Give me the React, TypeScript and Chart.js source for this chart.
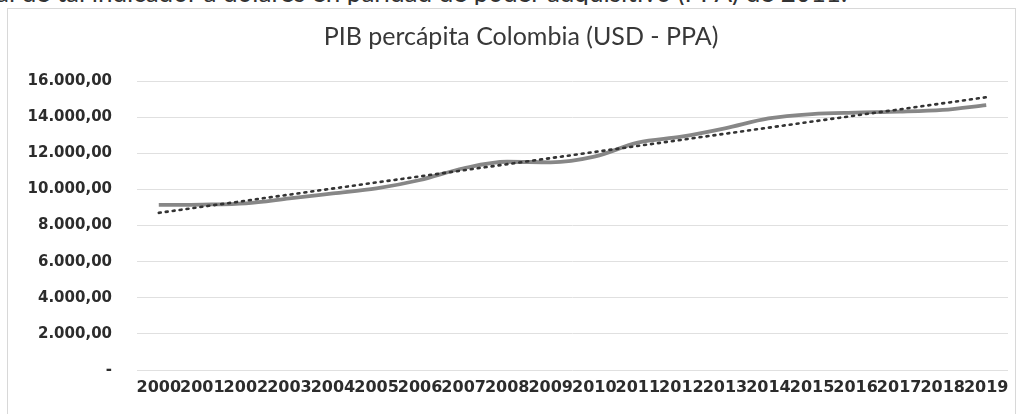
import React, { useEffect, useRef } from "react";
import { Chart, registerables } from "chart.js";

Chart.register(...registerables);

const years = ["2000","2001","2002","2003","2004","2005","2006","2007","2008","2009","2010","2011","2012","2013","2014","2015","2016","2017","2018","2019"];
const pibPerCapita = [9140, 9160, 9230, 9500, 9780, 10060, 10520, 11170, 11530, 11500, 11810, 12590, 12920, 13380, 13930, 14170, 14250, 14300, 14400, 14670];
const trendStart = 8700;
const trendEnd = 15100;
const yTickLabels = ["-", "2.000,00", "4.000,00", "6.000,00", "8.000,00", "10.000,00", "12.000,00", "14.000,00", "16.000,00"];
const titleText = "PIB percápita Colombia (USD - PPA)";
const headerText = "al de tal indicador a dólares en paridad de poder adquisitivo (PPA) de 2011.";

const trendData = years.map((_, i) => (i === 0 ? trendStart : i === years.length - 1 ? trendEnd : null));

export default function App() {
  const ref = useRef<HTMLCanvasElement | null>(null);
  useEffect(() => {
    if (!ref.current) return;
    const tickFont = "'DejaVu Sans', Verdana, sans-serif";
    const chart = new Chart(ref.current, {
      type: "line",
      data: {
        labels: years,
        datasets: [
          {
            label: "Tendencia",
            data: trendData,
            spanGaps: true,
            borderColor: "#333333",
            borderWidth: 2.6,
            borderDash: [2, 5],
            borderCapStyle: "round",
            pointRadius: 0,
            fill: false,
            order: 0,
          },
          {
            label: "PIB percápita",
            data: pibPerCapita,
            borderColor: "#878787",
            borderWidth: 3.8,
            pointRadius: 0,
            tension: 0.3,
            cubicInterpolationMode: "monotone",
            fill: false,
            order: 1,
          },
        ],
      },
      options: {
        responsive: false,
        animation: false,
        layout: { padding: { left: 10, right: 16, top: 81, bottom: 10 } },
        plugins: {
          legend: { display: false },
          tooltip: { enabled: false },
          title: { display: false },
        },
        scales: {
          x: {
            offset: true,
            grid: { display: false, drawTicks: false },
            border: { display: false },
            ticks: {
              autoSkip: false,
              maxRotation: 0,
              minRotation: 0,
              padding: 8,
              color: "#2c2c2c",
              font: { family: tickFont, size: 16, weight: "bold" },
            },
            afterFit: (s: any) => { s.height = 34; },
          },
          y: {
            min: 0,
            max: 16000,
            grid: { color: "#e0e0e0", lineWidth: 1, drawTicks: false },
            border: { display: false },
            ticks: {
              stepSize: 2000,
              padding: 25,
              color: "#2c2c2c",
              font: { family: tickFont, size: 15, weight: "bold" },
              callback: (_v: any, i: number) => yTickLabels[i],
            },
            afterFit: (s: any) => { s.width = 127; },
          },
        },
      },
    });
    return () => chart.destroy();
  }, []);

  return (
    <div style={{ position: "absolute", left: 0, top: 0, width: 1024, height: 414, background: "#fff", overflow: "hidden" }}>
      <div style={{ position: "absolute", left: 0, top: 0, width: 1024, height: 5, overflow: "hidden" }}>
        <div style={{ position: "absolute", left: -4, top: -21, whiteSpace: "nowrap", fontFamily: "Lato, sans-serif", fontSize: 26, color: "#333", lineHeight: "26px" }}>
          {headerText}
        </div>
      </div>
      <div style={{ position: "absolute", left: 7, top: 8, width: 1009, height: 420, border: "1.5px solid #d8d8d8", boxSizing: "border-box" }} />
      <canvas ref={ref} width={1024} height={414} style={{ position: "absolute", left: 0, top: 0 }} />
      <div style={{ position: "absolute", left: 221, top: 20, width: 600, textAlign: "center", whiteSpace: "nowrap", fontFamily: "Lato, sans-serif", fontSize: 25, lineHeight: "30px", color: "#383838" }}>
        {titleText}
      </div>
    </div>
  );
}
